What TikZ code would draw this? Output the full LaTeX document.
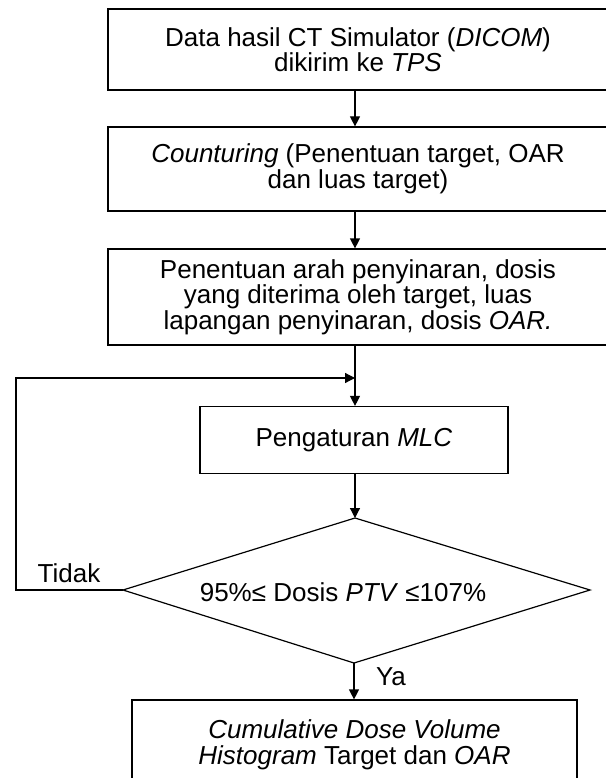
\documentclass[tikz,border=0pt]{standalone}
\usepackage{fontspec}
\setmainfont{Liberation Sans}
\usetikzlibrary{arrows.meta}
\begin{document}
\begin{tikzpicture}[x=1pt,y=-1pt,
  every node/.style={font=\fontsize{26}{25.5}\selectfont, align=center, inner sep=0pt},
  procbox/.style={draw, line width=1.2pt, minimum width=500pt},
  conn/.style={line width=1.2pt, -{Triangle[length=10pt,width=10pt]}},
  plainline/.style={line width=1.2pt}]
\useasboundingbox (0,0) rectangle (605,778);
\node[procbox, minimum height=81pt] (b1) at (358,49.5) {Data hasil CT Simulator (\textit{DICOM})\\dikirim ke \textit{TPS}};
\node[procbox, minimum height=84pt] (b2) at (358,169) {\textit{Counturing} (Penentuan target, OAR\\dan luas target)};
\node[procbox, minimum height=96pt] (b3) at (358,297) {Penentuan arah penyinaran, dosis\\yang diterima oleh target, luas\\lapangan penyinaran, dosis \textit{OAR.}};
\node[procbox, minimum width=308pt, minimum height=67pt] (b4) at (354,440) {Pengaturan \textit{MLC}};
\coordinate (dt) at (355,518);
\coordinate (dl) at (123,590);
\coordinate (dr) at (590,590);
\coordinate (db) at (354,663);
\draw[plainline] (dt) -- (dr) -- (db) -- (dl) -- cycle;
\node (d) at (343,592) {95\%≤ Dosis \textit{PTV} ≤107\%};
\node[procbox, minimum width=445pt, minimum height=90pt] (b5) at (354.5,745) {\textit{Cumulative Dose Volume}\\\textit{Histogram} Target dan \textit{OAR}};
\coordinate (c1) at (16,590);
\coordinate (c2) at (16,378);
\coordinate (m) at (355,378);
\draw[conn] (b1.south -| dt) -- (b2.north -| dt);
\draw[conn] (b2.south -| dt) -- (b3.north -| dt);
\draw[conn] (b3.south -| dt) -- (b4.north -| dt);
\draw[conn] (b4.south -| dt) -- (dt);
\draw[conn] (dl) -- (c1) -- (c2) -- (m);
\draw[conn] (db) -- (b5.north -| db);
\node at (69,573) {Tidak};
\node at (391,677) {Ya};
\end{tikzpicture}
\end{document}
